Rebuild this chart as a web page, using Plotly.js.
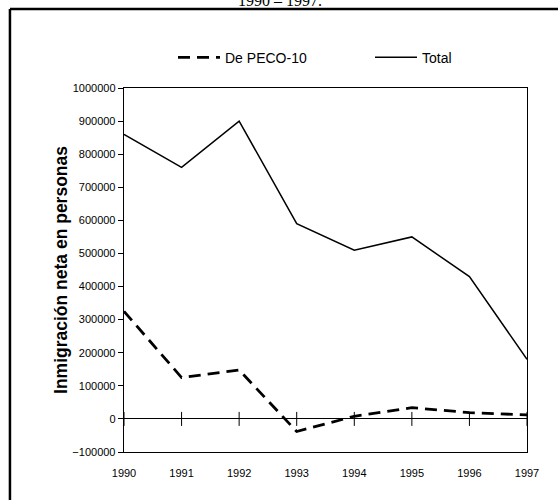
<!DOCTYPE html>
<html>
<head>
<meta charset="utf-8">
<script src="https://cdn.plot.ly/plotly-3.0.1.min.js"></script>
<style>html,body{margin:0;padding:0;background:#fff;overflow:hidden;}#chart{width:558px;height:500px;}</style>
</head>
<body>
<div id="chart"></div>
<script>
var years = [1990, 1991, 1992, 1993, 1994, 1995, 1996, 1997];
var decoPECO10 = [325000, 125000, 148000, -38000, 8000, 34000, 19000, 12000];
var total = [860000, 760000, 900000, 590000, 510000, 550000, 430000, 180000];
var zeroTicks = [0, 0, 0, 0, 0, 0, 0, 0];
var yTickVals = [-100000, 0, 100000, 200000, 300000, 400000, 500000, 600000, 700000, 800000, 900000, 1000000];
var xTickLabels = ['1990', '1991', '1992', '1993', '1994', '1995', '1996', '1997'];
var seriesNames = ['De PECO-10', 'Total'];
var titleText = '1990 – 1997.';
var yTitleText = 'Inmigración neta en personas';

var sans = 'Liberation Sans, Arial, sans-serif';

var traces = [
  {
    x: years, y: decoPECO10, name: seriesNames[0], type: 'scatter', mode: 'lines',
    line: {color: '#000', width: 2.8, dash: '12px,7px'}, hoverinfo: 'x+y'
  },
  {
    x: years, y: total, name: seriesNames[1], type: 'scatter', mode: 'lines',
    line: {color: '#000', width: 1.5}, hoverinfo: 'x+y'
  },
  {
    x: years, y: zeroTicks, type: 'scatter', mode: 'markers', showlegend: false, hoverinfo: 'skip',
    marker: {symbol: 'line-ns', size: 10, color: '#000', line: {color: '#000', width: 1}}, cliponaxis: false
  }
];

var layout = {
  width: 558, height: 500,
  margin: {l: 124, r: 31, t: 88, b: 48, autoexpand: false},
  paper_bgcolor: '#fff', plot_bgcolor: '#fff',
  title: {text: titleText, font: {family: 'Liberation Serif, Times New Roman, serif', size: 16, color: '#000'},
          x: 0.502, xref: 'container', y: 1, yref: 'container', yanchor: 'middle'},
  showlegend: true,
  legend: {orientation: 'h', x: 0.1216, xanchor: 'left', y: 1.127, yanchor: 'top',
           font: {family: sans, size: 14, color: '#000'}, bgcolor: 'rgba(0,0,0,0)',
           itemwidth: 42, entrywidth: 140, entrywidthmode: 'pixels', traceorder: 'normal'},
  xaxis: {
    range: [1990, 1997], tickvals: years, ticktext: xTickLabels,
    showline: true, linecolor: '#000', linewidth: 1, mirror: true,
    ticks: 'outside', ticklen: 11, tickcolor: 'rgba(0,0,0,0)',
    showgrid: false, zeroline: false,
    tickfont: {family: sans, size: 11, color: '#000'}
  },
  yaxis: {
    range: [-100000, 1000000], tickvals: yTickVals, tickformat: 'd',
    showline: true, linecolor: '#000', linewidth: 1.3, mirror: true,
    ticks: 'outside', ticklen: 5, tickcolor: '#000', tickwidth: 1,
    showgrid: false, zeroline: true, zerolinecolor: '#000', zerolinewidth: 1,
    tickfont: {family: sans, size: 11, color: '#000'},
    title: {text: yTitleText, font: {family: sans, size: 17.5, color: '#000', weight: 'bold'}, standoff: 0}
  },
  shapes: [
    {type: 'line', xref: 'paper', yref: 'paper', x0: -0.283, x1: 1.2, y0: 1.217, y1: 1.217,
     line: {color: '#000', width: 2.5}, layer: 'above'},
    {type: 'line', xref: 'paper', yref: 'paper', x0: -0.283, x1: -0.283, y0: 1.217, y1: -0.3,
     line: {color: '#000', width: 2.5}, layer: 'above'}
  ]
};

Plotly.newPlot('chart', traces, layout, {displayModeBar: false, staticPlot: true});
</script>
</body>
</html>
